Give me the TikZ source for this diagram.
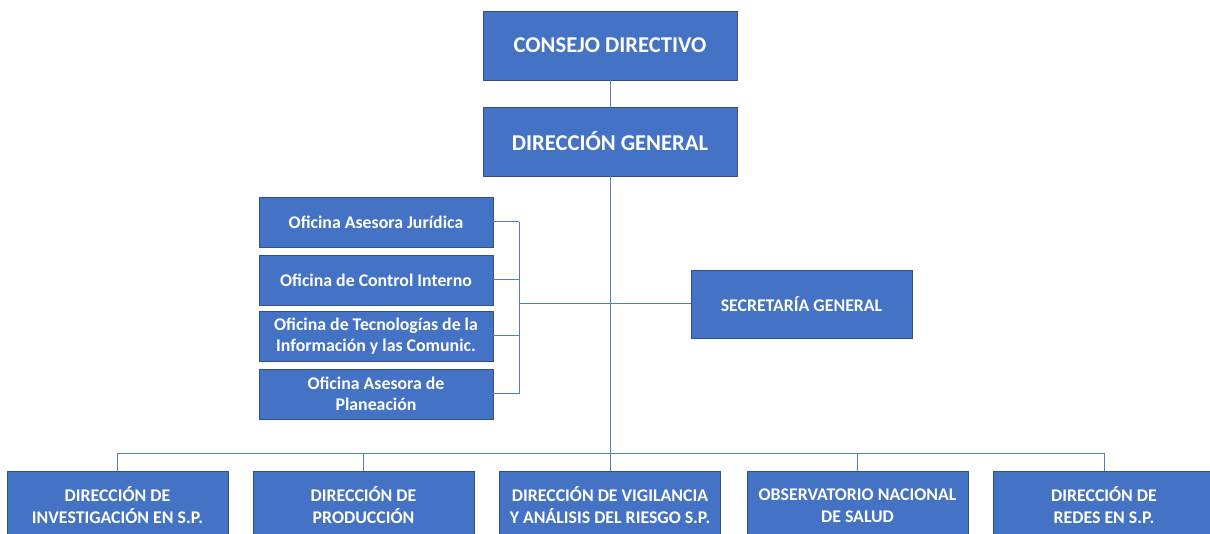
\documentclass[tikz,border=0pt]{standalone}
\usepackage{fontspec}
\setmainfont{Carlito}
\definecolor{boxblue}{HTML}{4472C4}
\definecolor{boxedge}{HTML}{2F528F}
\definecolor{linkblue}{HTML}{4F7DCB}
\begin{document}
\begin{tikzpicture}[x = 1pt, y = -1pt,
    unit/.style = {shape = rectangle, fill = boxblue, draw = boxedge,
                   line width = 0.8pt, text = white, align = center,
                   font = \bfseries, inner sep = 2pt},
    topunit/.style = {unit, minimum width = 254pt, minimum height = 69pt,
                      font = \bfseries\fontsize{22.6}{26}\selectfont},
    office/.style = {unit, minimum width = 234pt, minimum height = 50pt,
                     font = \bfseries\fontsize{17.8}{21.5}\selectfont},
    direction/.style = {unit, minimum width = 221pt, minimum height = 68pt,
                        font = \bfseries\fontsize{17.8}{22}\selectfont},
    link/.style = {draw = linkblue, line width = 1pt}]
  \useasboundingbox (0,0) rectangle (1210,534);
  \clip (0,0) rectangle (1210,534);

  % upper levels
  \node[topunit] (cd) at (610,45.5) {CONSEJO DIRECTIVO};
  \node[topunit] (dg) at (610,141.5) {DIRECCIÓN GENERAL};

  % advisory offices
  \node[office] (of1) at (376,222) {Oficina Asesora Jurídica};
  \node[office] (of2) at (376,280) {Oficina de Control Interno};
  \node[office] (of3) at (376,336) {Oficina de Tecnologías de la\\Información y las Comunic.};
  \node[office] (of4) at (376,394) {Oficina Asesora de\\Planeación};

  \node[direction] (sg) at (801.5,304) {SECRETARÍA GENERAL};

  % directions
  \node[direction, anchor = north] (d1) at (117.5,471) {DIRECCIÓN DE\\INVESTIGACIÓN EN S.P.};
  \node[direction, anchor = north] (d2) at (363.5,471) {DIRECCIÓN DE\\PRODUCCIÓN};
  \node[direction, anchor = north] (d3) at (610,471) {DIRECCIÓN DE VIGILANCIA\\Y ANÁLISIS DEL RIESGO S.P.};
  \node[direction, anchor = north] (d4) at (857.5,471) {OBSERVATORIO NACIONAL\\DE SALUD};
  \node[direction, anchor = north] (d5) at (1104,471) {DIRECCIÓN DE\\REDES EN S.P.};

  \coordinate (bus) at (0,453);
  \coordinate (br) at (519,0);

  % connectors
  \draw[link] (cd.south) -- (dg.north);
  \draw[link] (dg.south) -- (d3.north);
  \draw[link] (d1.north |- bus) -- (d5.north |- bus);
  \foreach \i in {1, 2, 4, 5}
  {
    \draw[link] (d\i.north) -- (d\i.north |- bus);
  };
  \foreach \i in {1, ..., 4}
  {
    \draw[link] (of\i.east) -- (of\i.east -| br);
  };
  \draw[link] (of1.east -| br) -- (of4.east -| br);
  \draw[link] (br |- sg.west) -- (sg.west);
\end{tikzpicture}
\end{document}
